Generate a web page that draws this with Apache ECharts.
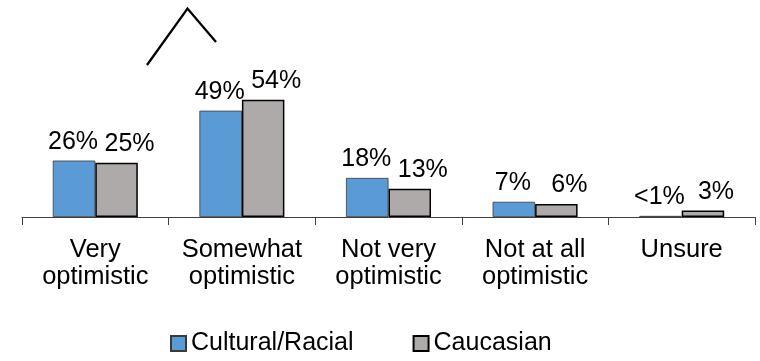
<!DOCTYPE html>
<html>
<head>
<meta charset="utf-8">
<script src="https://cdn.jsdelivr.net/npm/echarts@6/dist/echarts.min.js"></script>
<style>html,body{margin:0;padding:0;background:#fff}#c{width:760px;height:361px}</style>
</head>
<body>
<div id="c"></div>
<script>
var categories = ['Very\noptimistic', 'Somewhat\noptimistic', 'Not very\noptimistic', 'Not at all\noptimistic', 'Unsure'];
var culturalValues = [26, 49, 18, 7, 0.5];
var culturalLabels = ['26%', '49%', '18%', '7%', '<1%'];
var caucasianValues = [25, 54, 13, 6, 3];
var caucasianLabels = ['25%', '54%', '13%', '6%', '3%'];
var seriesNames = ['Cultural/Racial', 'Caucasian'];

var FONT = 'Liberation Sans, Arial, sans-serif';
var chart = echarts.init(document.getElementById('c'), null, {renderer: 'canvas'});
chart.setOption({
  animation: false,
  backgroundColor: '#fff',
  grid: {left: 22, right: 5, top: 0, bottom: 144, containLabel: false},
  xAxis: {
    type: 'category',
    data: categories,
    axisLine: {lineStyle: {color: '#404040', width: 1}},
    axisTick: {show: true, length: 8, alignWithLabel: false, lineStyle: {color: '#404040'}},
    axisLabel: {color: '#000', fontFamily: FONT, fontSize: 25.5, lineHeight: 27, margin: 19, interval: 0}
  },
  yAxis: {type: 'value', min: 0, max: 100, show: false, splitLine: {show: false}},
  legend: {
    left: 165, top: 326,
    icon: 'rect',
    itemWidth: 15, itemHeight: 15, itemGap: 59,
    textStyle: {fontFamily: FONT, fontSize: 25, color: '#000'},
    data: seriesNames
  },
  series: [
    {
      name: seriesNames[0], type: 'bar', barWidth: 42.5, barGap: '0%',
      data: culturalValues,
      itemStyle: {color: '#5B9BD5', borderColor: '#3a3a3a', borderWidth: 0.8},
      label: {show: true, position: 'top', distance: 6, offset: [-1, 0],
        fontFamily: FONT, fontSize: 25, color: '#000',
        formatter: function (p) { return culturalLabels[p.dataIndex]; }}
    },
    {
      name: seriesNames[1], type: 'bar', barWidth: 42.5, barGap: '0%',
      data: caucasianValues,
      itemStyle: {color: '#AEAAAA', borderColor: '#000', borderWidth: 1.5},
      label: {show: true, position: 'top', distance: 6, offset: [13, 0],
        fontFamily: FONT, fontSize: 25, color: '#000',
        formatter: function (p) { return caucasianLabels[p.dataIndex]; }}
    }
  ],
  graphic: [{
    type: 'polyline',
    shape: {points: [[147, 65], [187.5, 8.5], [216, 42]]},
    style: {stroke: '#000', lineWidth: 2.3, fill: null}
  }]
});
</script>
</body>
</html>
